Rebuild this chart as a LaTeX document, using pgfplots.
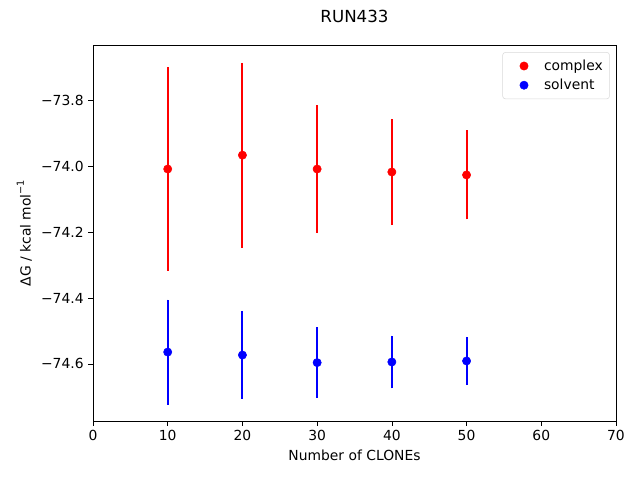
\documentclass[border=0pt]{standalone}
\usepackage{pgfplots}
\pgfplotsset{compat=1.18}
\usepackage{fontspec}
\setmainfont{DejaVu Sans}
\begin{document}
\begin{tikzpicture}
\begin{axis}[
  scale only axis,
  width=392.25pt, height=282pt,
  xmin=0, xmax=70, ymin=-74.773, ymax=-73.633,
  xtick={0,10,...,70},
  ytick={-74.6,-74.4,-74.2,-74.0,-73.8},
  yticklabels={−74.6,−74.4,−74.2,−74.0,−73.8},
  /pgf/number format/assume math mode=true,
  tick style={black, thin},
  tick align=outside,
  major tick length=3.5pt,
  xtick pos=bottom, ytick pos=left,
  font=\fontsize{10.4}{12}\selectfont,
  ticklabel style={font=\fontsize{10.4}{12}\selectfont},
  xlabel={Number of CLONEs},
  ylabel={ΔG / kcal mol\raisebox{0.9ex}{\fontsize{7.3}{8}\selectfont −1}},
  title={RUN433},
  title style={font=\fontsize{12.5}{14}\selectfont, yshift=7pt},
  legend pos=north east,
  legend cell align=left,
  legend style={draw=black!15, rounded corners=2pt, font=\fontsize{10.4}{12}\selectfont, row sep=1pt, inner xsep=3pt, inner ysep=3.5pt, at={(0.988,0.981)}},
  legend image code/.code={\path[draw opacity=0, fill opacity=0] (0,0) -- (0.9cm,0); \fill[#1] (0.45cm,0cm) circle (3.1pt);},
]
\addplot[only marks, mark=*, mark size=3.1pt, red, draw=red, fill=red,
  error bars/.cd, y dir=both, y explicit, error mark=none, error bar style={red, line width=1.5pt}]
  coordinates {
  (10,-74.009) +- (0,0.308)
  (20,-73.967) +- (0,0.280)
  (30,-74.009) +- (0,0.194)
  (40,-74.018) +- (0,0.161)
  (50,-74.027) +- (0,0.135)
  };
\addlegendentry{complex}
\addplot[only marks, mark=*, mark size=3.1pt, blue, draw=blue, fill=blue,
  error bars/.cd, y dir=both, y explicit, error mark=none, error bar style={blue, line width=1.5pt}]
  coordinates {
  (10,-74.564) +- (0,0.159)
  (20,-74.573) +- (0,0.134)
  (30,-74.596) +- (0,0.107)
  (40,-74.594) +- (0,0.080)
  (50,-74.591) +- (0,0.073)
  };
\addlegendentry{solvent}
\end{axis}
\path[use as bounding box] (-69.75pt,-44.25pt) rectangle (410.25pt,315.75pt);
\end{tikzpicture}
\end{document}
